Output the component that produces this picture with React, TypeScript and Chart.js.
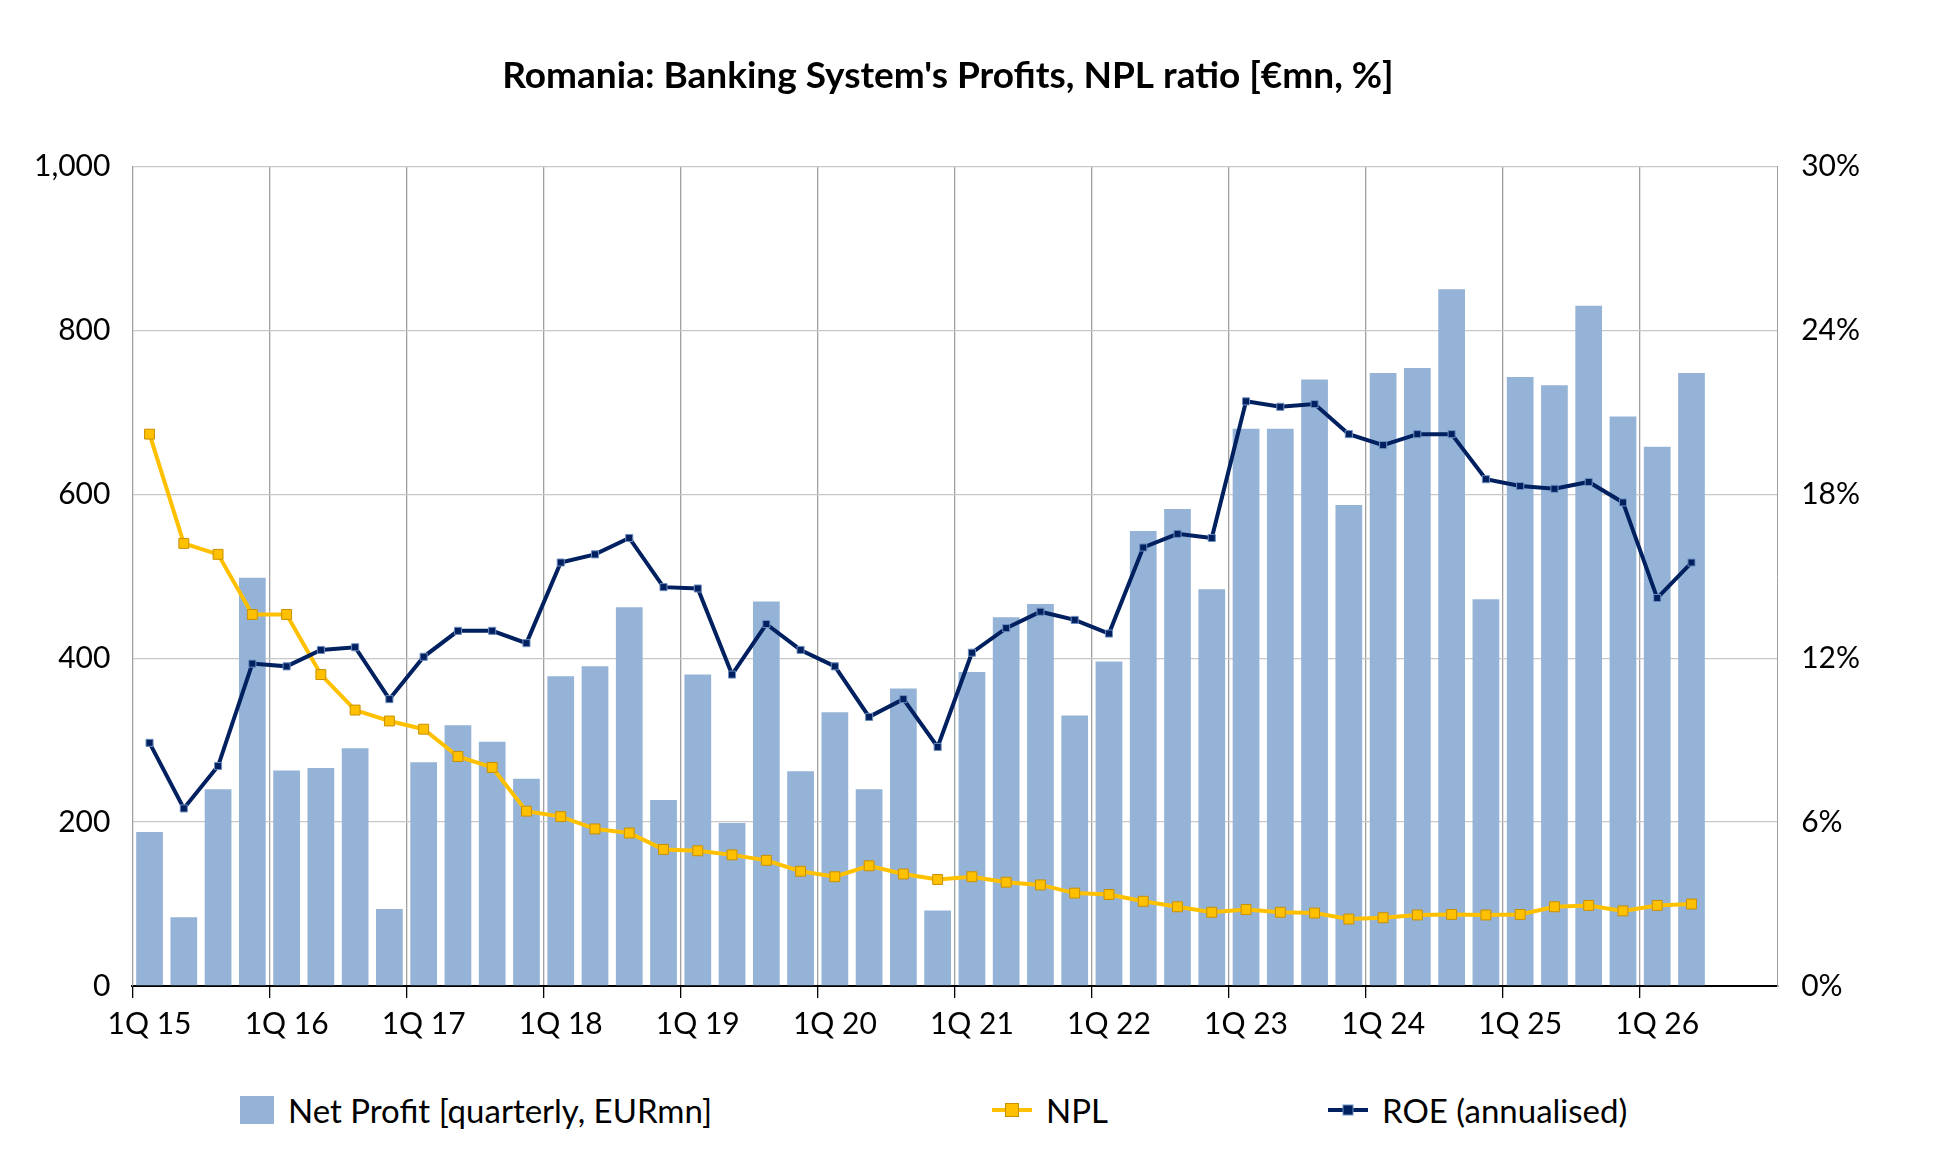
import React, { useEffect, useRef } from "react";
import { Chart, registerables } from "chart.js";
Chart.register(...registerables);

const years = ["15","16","17","18","19","20","21","22","23","24","25","26"];
const quarters: string[] = [];
years.forEach(y => { for (let q = 1; q <= 4; q++) quarters.push(q + "Q " + y); });

const netProfit = [188,84,240,498,263,266,290,94,273,318,298,253,378,390,462,227,380,199,469,262,334,240,363,92,383,450,466,330,396,555,582,484,680,680,740,587,748,754,850,472,743,733,830,695,658,748];
const npl = [20.2,16.2,15.8,13.6,13.6,11.4,10.1,9.7,9.4,8.4,8.0,6.4,6.2,5.75,5.6,5.0,4.95,4.8,4.6,4.2,4.0,4.4,4.1,3.9,4.0,3.8,3.7,3.4,3.35,3.1,2.9,2.7,2.8,2.7,2.67,2.45,2.5,2.6,2.62,2.6,2.62,2.9,2.95,2.75,2.95,3.0];
const roe = [8.9,6.5,8.05,11.8,11.7,12.3,12.4,10.5,12.05,13.0,13.0,12.55,15.5,15.8,16.4,14.6,14.55,11.4,13.25,12.3,11.7,9.85,10.5,8.75,12.2,13.1,13.7,13.4,12.9,16.05,16.55,16.4,21.4,21.2,21.3,20.2,19.8,20.2,20.2,18.55,18.3,18.2,18.45,17.7,14.2,15.5];

const FONT = "Lato, 'Open Sans', sans-serif";
const BAR = "#95b3d7", NPLC = "#ffc000", ROEC = "#002060";

function LineIcon({ color, border, size }: { color: string; border: string; size: number }) {
  return (
    <svg width={44} height={20} style={{ marginRight: 12 }}>
      <line x1={2} y1={10} x2={42} y2={10} stroke={color} strokeWidth={4} />
      <rect x={22 - size / 2} y={10 - size / 2} width={size} height={size} fill={color} stroke={border} strokeWidth={1} />
    </svg>
  );
}

export default function App() {
  const ref = useRef<HTMLCanvasElement>(null);
  useEffect(() => {
    const chart = new Chart(ref.current!, {
      data: {
        labels: quarters,
        datasets: [
          { type: "line", label: "ROE (annualised)", data: roe, yAxisID: "y1", borderColor: ROEC, backgroundColor: ROEC, pointBorderColor: "#6f8fc0", borderWidth: 4, pointStyle: "rect", pointRadius: 5, pointBorderWidth: 1, order: 0 },
          { type: "line", label: "NPL", data: npl, yAxisID: "y1", borderColor: NPLC, backgroundColor: NPLC, pointBorderColor: "#c89000", borderWidth: 4, pointStyle: "rect", pointRadius: 7, pointBorderWidth: 1, order: 1 },
          { type: "bar", label: "Net Profit [quarterly, EURmn]", data: netProfit, yAxisID: "y", backgroundColor: BAR, categoryPercentage: 0.78, barPercentage: 1, order: 2 },
        ] as any,
      },
      options: {
        animation: false,
        responsive: false,
        layout: { padding: { left: 12, right: 60, top: 10, bottom: 10 } },
        plugins: {
          title: { display: true, text: "Romania: Banking System's Profits, NPL ratio [€mn, %]", color: "#000", font: { family: FONT, size: 37, weight: "bold" }, padding: { top: 44, bottom: 68 } },
          legend: { display: false },
          tooltip: { enabled: false },
        },
        scales: {
          x: {
            offset: true,
            grid: { offset: true, drawOnChartArea: true, color: (ctx: any) => (ctx.index % 4 === 0 ? "#a0a0a0" : "transparent"), tickLength: 12, tickColor: (ctx: any) => (ctx.index % 4 === 0 ? "#000" : "transparent"), lineWidth: 1.3 } as any,
            border: { color: "#000", width: 2 },
            ticks: { autoSkip: false, maxRotation: 0, color: "#000", padding: 8, font: { family: FONT, size: 30 }, callback: (v: any, i: number) => (i % 4 === 0 ? "1Q " + quarters[i].slice(3) : "") },
          },
          y: {
            position: "left", min: 0, max: 1000,
            ticks: { stepSize: 200, color: "#000", font: { family: FONT, size: 30 }, padding: 22, callback: (v: any) => Number(v).toLocaleString("en-US") },
            grid: { color: "#c8c8c8", lineWidth: 1.3, drawTicks: false },
            border: { color: "#a0a0a0" },
          },
          y1: {
            position: "right", min: 0, max: 30,
            ticks: { stepSize: 6, color: "#000", font: { family: FONT, size: 30 }, padding: 24, callback: (v: any) => v + "%" },
            grid: { drawOnChartArea: false, drawTicks: false },
            border: { color: "#a0a0a0" },
          },
        },
      } as any,
    });
    return () => chart.destroy();
  }, []);
  const item: React.CSSProperties = { display: "flex", alignItems: "center", position: "absolute", top: 0 };
  return (
    <div style={{ position: "absolute", left: 0, top: 0, width: 1944, height: 1160, background: "#fff", fontFamily: FONT, fontSize: 33, color: "#000" }}>
      <canvas ref={ref} width={1944} height={1060} style={{ width: 1944, height: 1060, display: "block" }} />
      <div style={{ position: "absolute", left: 0, top: 1090, width: 1944, height: 44 }}>
        <div style={{ ...item, left: 240 }}>
          <div style={{ width: 34, height: 28, background: BAR, marginRight: 14 }} />
          <span>Net Profit [quarterly, EURmn]</span>
        </div>
        <div style={{ ...item, left: 990 }}>
          <LineIcon color={NPLC} border="#c89000" size={13} />
          <span>NPL</span>
        </div>
        <div style={{ ...item, left: 1326 }}>
          <LineIcon color={ROEC} border="#6f8fc0" size={10} />
          <span>ROE (annualised)</span>
        </div>
      </div>
    </div>
  );
}
